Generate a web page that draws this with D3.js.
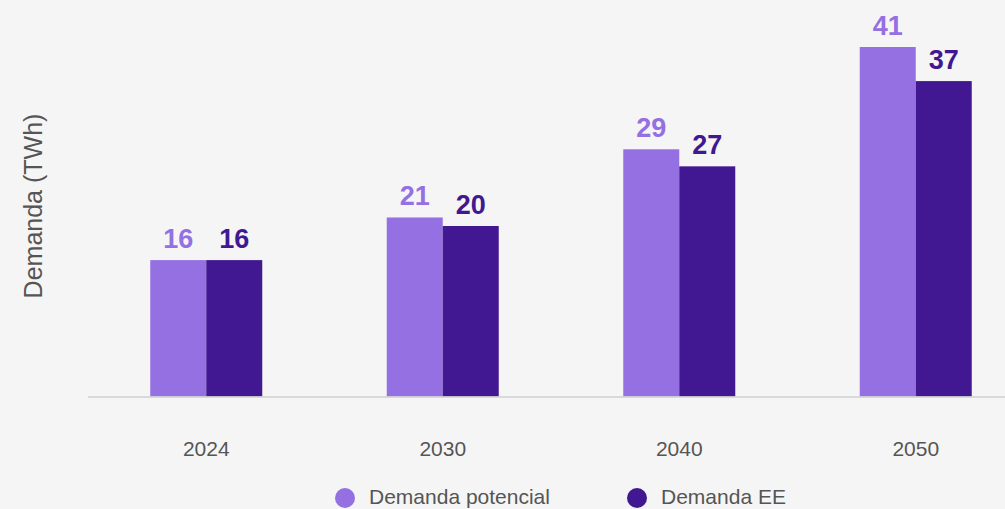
<!DOCTYPE html>
<html>
<head>
<meta charset="utf-8">
<script src="https://cdn.jsdelivr.net/npm/d3@7"></script>
<style>
  html, body { margin: 0; padding: 0; background: #f5f5f5; overflow: hidden; }
  svg { display: block; font-family: "Liberation Sans", Arial, Helvetica, sans-serif; }
</style>
</head>
<body>
<svg id="chart" width="1005" height="509"></svg>
<script>
// Electricity demand by year (TWh)
const years = ["2024", "2030", "2040", "2050"];
const seriesNames = ["Demanda potencial", "Demanda EE"];
const demandaPotencial = [16, 21, 29, 41];
const demandaEE = [16, 20, 27, 37];
const seriesColors = ["#9470e2", "#411891"];

const width = 1005, height = 509;
const svg = d3.select("#chart");
svg.append("rect").attr("width", width).attr("height", height).attr("fill", "#f5f5f5");

const baseY = 396.5;
const x0 = d3.scaleBand().domain(years).range([88, 1034]).paddingInner(0).paddingOuter(0);
const groupWidth = 112;
const x1 = d3.scaleBand().domain(seriesNames).range([0, groupWidth]).padding(0);
const y = d3.scaleLinear().domain([0, 41]).range([baseY, 47]);

const seriesValues = [demandaPotencial, demandaEE];

const groups = svg.selectAll("g.year")
  .data(years)
  .join("g")
  .attr("class", "year")
  .attr("transform", d => `translate(${x0(d) + x0.bandwidth() / 2 - groupWidth / 2},0)`);

seriesNames.forEach((name, si) => {
  groups.append("rect")
    .attr("x", x1(name))
    .attr("width", x1.bandwidth())
    .attr("y", (d, i) => y(seriesValues[si][i]))
    .attr("height", (d, i) => baseY - y(seriesValues[si][i]))
    .attr("fill", seriesColors[si]);

  groups.append("text")
    .attr("x", x1(name) + x1.bandwidth() / 2)
    .attr("y", (d, i) => y(seriesValues[si][i]) - 12)
    .attr("text-anchor", "middle")
    .attr("font-size", 27)
    .attr("font-weight", "bold")
    .attr("fill", seriesColors[si])
    .text((d, i) => seriesValues[si][i]);
});

// baseline
svg.append("line")
  .attr("x1", 88).attr("x2", width)
  .attr("y1", baseY + 0.5).attr("y2", baseY + 0.5)
  .attr("stroke", "#cfcfcf").attr("stroke-width", 1.5);

// x axis labels
const xAxis = d3.axisBottom(x0).tickSize(0).tickPadding(0);
const axisG = svg.append("g").attr("transform", `translate(0,${baseY})`).call(xAxis);
axisG.select(".domain").remove();
axisG.selectAll("text")
  .attr("y", 59)
  .attr("dy", 0)
  .attr("font-size", 21)
  .attr("font-family", "\"Liberation Sans\", Arial, sans-serif")
  .attr("fill", "#555");

// y axis title
svg.append("text")
  .attr("transform", "translate(42,206) rotate(-90)")
  .attr("text-anchor", "middle")
  .attr("font-size", 25)
  .attr("fill", "#555")
  .text("Demanda (TWh)");

// legend
const legendX = [345, 637];
seriesNames.forEach((name, si) => {
  svg.append("circle")
    .attr("cx", legendX[si]).attr("cy", 498).attr("r", 10)
    .attr("fill", seriesColors[si]);
  svg.append("text")
    .attr("x", legendX[si] + 24).attr("y", 504)
    .attr("font-size", 21)
    .attr("fill", "#555")
    .text(name);
});
</script>
</body>
</html>
